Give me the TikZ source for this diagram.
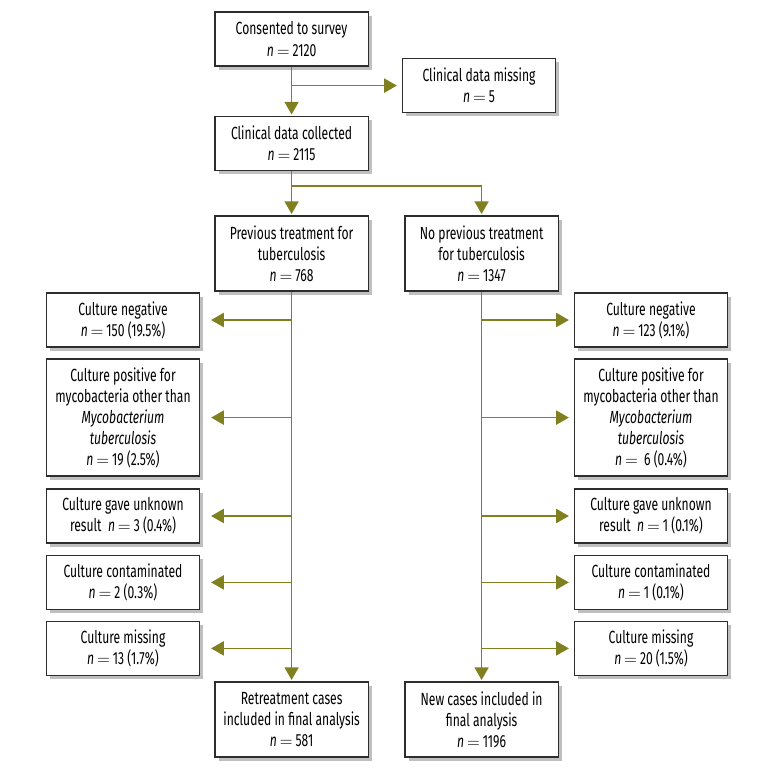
\documentclass[tikz,border=0pt]{standalone}
\usepackage{fontspec}
\setmainfont{Fira Sans}[FakeStretch=0.69]
\usepackage{xcolor}
\usepackage{tikz}
\usetikzlibrary{arrows.meta, positioning, shadows}
\definecolor{tb_olive}{RGB}{128, 128, 32}
\definecolor{tb_frame}{RGB}{45, 45, 45}
\newcommand{\nn}{\textit{n}\,$=$\,}

\begin{document}
\begin{tikzpicture}[font=\fontsize{12.5}{15}\selectfont,
      blk/.style={draw=tb_frame, line width=1pt, fill=white, align=center,
                  minimum width=3.83cm, minimum height=1.35cm, inner sep=2pt,
                  drop shadow={shadow xshift=0.09cm, shadow yshift=-0.09cm,
                               fill=black!25, opacity=1}},
      tall/.style={blk, minimum height=1.875cm},
      arr/.style={-{Triangle[length=9pt, width=10pt]}, line width=1.1pt,
                  tb_olive, shorten >=1pt}]
      \useasboundingbox (0,0) rectangle (19.275,-19.275);
      \node[blk] (cons)   at (7.29,  -0.975) {Consented to survey\\\nn 2120};
      \node[blk] (miss)   at (11.975,-2.14)  {Clinical data missing\\\nn 5};
      \node[blk] (coll)   at (7.29,  -3.59)  {Clinical data collected\\\nn 2115};
      \node[tall] (prev)   at (7.29, -6.34) {Previous treatment for\\tuberculosis\\\nn 768};
      \node[tall] (noprev) at (12.04,-6.34) {No previous treatment\\for tuberculosis\\\nn 1347};
      % previous treatment
      \node[blk] (lneg)  at (3.075,-8.0)   {Culture negative\\\nn 150 (19.5\%)};
      \node[blk, minimum height=2.925cm] (lpos) at (3.075,-10.44)
        {Culture positive for\\mycobacteria other than\\\textit{Mycobacterium}\\\textit{tuberculosis}\\\nn 19 (2.5\%)};
      \node[blk] (lunk)  at (3.075,-12.9)  {Culture gave unknown\\result\ \ \nn 3 (0.4\%)};
      \node[blk] (lcont) at (3.075,-14.56) {Culture contaminated\\\nn 2 (0.3\%)};
      \node[blk] (lmiss) at (3.075,-16.21) {Culture missing\\\nn 13 (1.7\%)};
      \node[tall] (retr) at (7.29,-17.99) {Retreatment cases\\included in final analysis\\\nn 581};
      % no previous treatment
      \node[blk] (rneg)  at (16.275,-8.0)   {Culture negative\\\nn 123 (9.1\%)};
      \node[blk, minimum height=2.925cm] (rpos) at (16.275,-10.44)
        {Culture positive for\\mycobacteria other than\\\textit{Mycobacterium}\\\textit{tuberculosis}\\\nn\ 6 (0.4\%)};
      \node[blk] (runk)  at (16.275,-12.9)  {Culture gave unknown\\result\ \ \nn 1 (0.1\%)};
      \node[blk] (rcont) at (16.275,-14.56) {Culture contaminated\\\nn 1 (0.1\%)};
      \node[blk] (rmiss) at (16.275,-16.21) {Culture missing\\\nn 20 (1.5\%)};
      \node[tall] (newc) at (12.04,-17.99) {New cases included in\\final analysis\\\nn 1196};
      \coordinate (fork) at (7.29,-4.65);
      \draw[arr] (cons) -- (coll);
      \draw[arr, shorten >=0.12cm] (miss.west -| cons) -- (miss.west);
      \draw[arr] (coll) -- (prev);
      \draw[arr] (fork) -| (noprev);
      \draw[arr] (prev) -- (retr);
      \draw[arr] (noprev) -- (newc);
      \foreach \b in {lneg, lpos, lunk, lcont, lmiss}
        \draw[arr, shorten >=0.27cm] (\b -| prev) -- (\b.east);
      \foreach \b in {rneg, rpos, runk, rcont, rmiss}
        \draw[arr, shorten >=0.12cm] (\b -| noprev) -- (\b.west);
    \end{tikzpicture}
\end{document}
